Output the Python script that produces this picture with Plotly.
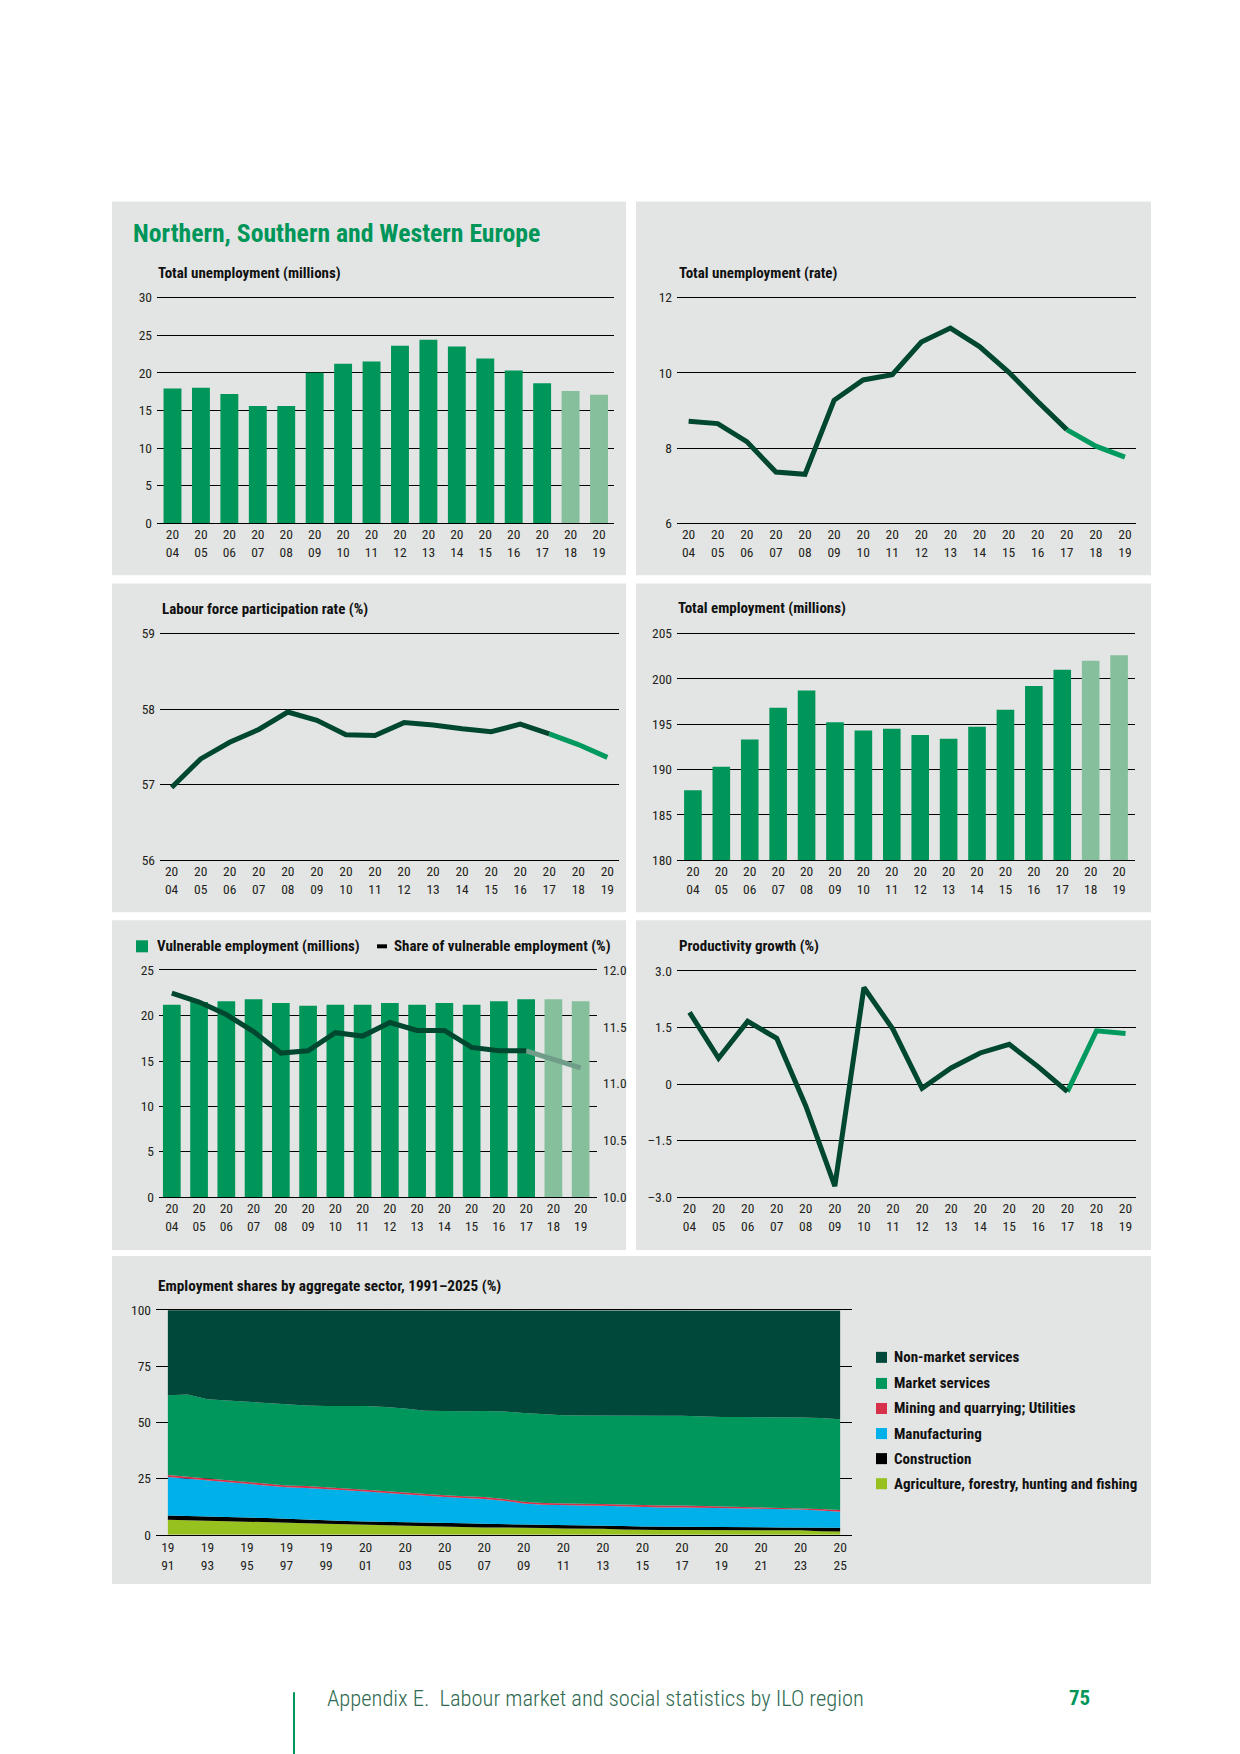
import plotly.graph_objects as go

# ---------------- data ----------------
years = [2004, 2005, 2006, 2007, 2008, 2009, 2010, 2011,
         2012, 2013, 2014, 2015, 2016, 2017, 2018, 2019]
first_projection_year = 2018

unemp_millions = [17.9, 18.0, 17.2, 15.6, 15.6, 20.0, 21.2, 21.5,
                  23.6, 24.4, 23.5, 21.9, 20.3, 18.6, 17.6, 17.1]
unemp_rate = [8.71, 8.65, 8.17, 7.36, 7.30, 9.27, 9.81, 9.95,
              10.82, 11.19, 10.70, 10.02, 9.24, 8.49, 8.05, 7.76]
lfpr = [56.96, 57.34, 57.56, 57.73, 57.96, 57.85, 57.66, 57.65,
        57.82, 57.79, 57.74, 57.70, 57.80, 57.67, 57.53, 57.36]
employment = [187.7, 190.3, 193.3, 196.8, 198.7, 195.2, 194.3, 194.5,
              193.8, 193.4, 194.7, 196.6, 199.2, 201.0, 202.0, 202.6]
vuln_millions = [21.2, 21.5, 21.6, 21.8, 21.4, 21.1, 21.2, 21.2,
                 21.4, 21.2, 21.4, 21.2, 21.6, 21.8, 21.8, 21.6]
vuln_share = [11.80, 11.72, 11.61, 11.46, 11.27, 11.29, 11.45, 11.42,
              11.54, 11.47, 11.47, 11.32, 11.29, 11.29, 11.21, 11.14]
productivity = [1.91, 0.69, 1.67, 1.22, -0.58, -2.71, 2.57, 1.46,
                -0.11, 0.43, 0.83, 1.06, 0.46, -0.20, 1.42, 1.35]

sector_years = list(range(1991, 2026))
sector_tick_years = list(range(1991, 2026, 2))
agriculture = [6.7, 6.5, 6.4, 6.3, 5.9, 5.7, 5.5, 5.2, 4.9, 4.7, 4.3, 4.3,
               4.2, 3.9, 3.7, 3.5, 3.3, 3.3, 3.3, 3.0, 2.8, 2.8, 2.7, 2.4,
               2.1, 2.1, 2.2, 2.2, 2.2, 2.1, 2.1, 2.0, 2.0, 1.6, 1.5]
construction = [1.9, 1.9, 1.8, 1.8, 1.9, 1.8, 1.6, 1.5, 1.5, 1.5, 1.6, 1.5,
                1.4, 1.5, 1.7, 1.6, 1.6, 1.5, 1.3, 1.3, 1.4, 1.4, 1.5, 1.5,
                1.6, 1.6, 1.5, 1.5, 1.5, 1.4, 1.3, 1.3, 1.3, 1.6, 1.7]
manufacturing = [17.1, 16.5, 16.0, 15.3, 14.8, 14.5, 14.1, 14.2, 14.1, 13.6,
                 13.4, 12.8, 12.6, 12.0, 11.4, 11.3, 11.1, 10.4, 9.3, 9.1,
                 8.9, 8.8, 8.7, 8.7, 8.6, 8.5, 8.5, 8.4, 8.3, 8.1, 8.1, 8.1,
                 8.0, 7.6, 7.1]
mining_utilities = [0.9, 0.9, 0.9, 0.9, 0.9, 0.9, 0.8, 0.8, 0.8, 0.8, 0.8,
                    0.8, 0.8, 0.8, 0.8, 0.8, 0.8, 0.8, 0.8, 0.8, 0.8, 0.8,
                    0.8, 0.8, 0.8, 0.8, 0.8, 0.7, 0.7, 0.7, 0.7, 0.7, 0.7,
                    0.7, 0.7]
market_services = [35.6, 36.7, 35.3, 35.5, 35.9, 35.7, 36.1, 35.9, 36.1, 36.8,
                   37.3, 37.5, 37.3, 37.0, 37.4, 37.8, 38.3, 38.9, 39.5, 39.4,
                   39.3, 39.3, 39.3, 39.6, 39.9, 40.0, 40.0, 39.8, 39.8, 40.2,
                   40.3, 40.3, 40.2, 40.5, 40.5]
non_market_services = [37.9, 37.6, 39.7, 40.2, 40.6, 41.5, 41.9, 42.4, 42.6,
                       42.6, 42.6, 43.1, 43.8, 44.7, 44.9, 44.9, 44.9, 45.0,
                       45.9, 46.4, 46.8, 46.9, 47.0, 47.0, 47.0, 47.0, 47.0,
                       47.4, 47.5, 47.5, 47.6, 47.6, 47.8, 47.9, 48.4]
sector_names = ["Agriculture, forestry, hunting and fishing", "Construction",
                "Manufacturing", "Mining and quarrying; Utilities",
                "Market services", "Non-market services"]
sector_values = [agriculture, construction, manufacturing, mining_utilities,
                 market_services, non_market_services]

# ---------------- style ----------------
W = 1240
H_FIG = 1767          # figure height
PAGE_SY = 0.9884      # observed vertical scale of the photographed page
PAGE_OY = 8.1         # observed offset above the figure
FONT = "Roboto Condensed, Liberation Sans Narrow, Roboto, sans-serif"
PANEL = "#e3e5e4"
BAR = "#00965a"
BAR_PROJ = "#86bf9b"
LINE = "#00472f"
LINE_PROJ = "#009a5e"
LINE_PROJ_GREY = "#6f9d88"
TXT = "#231f20"
GREEN_TITLE = "#00965a"
sector_colors = ["#97c11f", "#000000", "#00b0e8", "#d7304a", "#00975c", "#00483a"]

def px(x):
    return x / W

def py(y):
    # y is a position on the 1754-px page; convert to paper fraction
    return 1 - (y - PAGE_OY) / (PAGE_SY * H_FIG)

def xid(n):
    return "x" if n == 1 else "x%d" % n

def yid(n):
    return "y" if n == 1 else "y%d" % n

def lname(axid):
    return axid[0] + "axis" + axid[1:]

def year_label(y):
    s = str(y)
    return s[:2] + "<br>" + s[2:]

fig = go.Figure()

ax_font = dict(family=FONT, size=13.5, color=TXT)

def add_axes(n, x0, x1, y0, y1, xr, yr, ytickvals, yticktext=None, xtickvals=None,
             xstandoff=-1):
    xt = xtickvals if xtickvals is not None else years
    xa = dict(domain=[px(x0), px(x1)], range=xr, anchor=yid(n),
              showgrid=False, zeroline=False, showline=True, mirror=True,
              linecolor="#000000", linewidth=1, ticks="",
              tickmode="array", tickvals=xt, ticktext=[year_label(y) for y in xt],
              tickfont=ax_font, ticklabelstandoff=xstandoff, fixedrange=True)
    ya = dict(domain=[py(y1), py(y0)], range=yr, anchor=xid(n),
              showgrid=True, gridcolor="#000000", gridwidth=1,
              zeroline=False, showline=False, ticks="",
              tickmode="array", tickvals=ytickvals,
              ticktext=yticktext if yticktext is not None else [str(v) for v in ytickvals],
              tickfont=ax_font, ticklabelstandoff=4, fixedrange=True)
    fig.layout[lname(xid(n))] = xa
    fig.layout[lname(yid(n))] = ya

split_i = years.index(first_projection_year)
bar_colors = [BAR if y < first_projection_year else BAR_PROJ for y in years]

def add_bars(n, vals, width):
    fig.add_trace(go.Bar(x=years, y=vals, marker=dict(color=bar_colors, line=dict(width=0)),
                         width=width, xaxis=xid(n), yaxis=yid(n), showlegend=False))

def add_line(n, vals, proj_color, y_axis=None):
    ya_ = y_axis if y_axis else yid(n)
    fig.add_trace(go.Scatter(x=years[split_i - 1:], y=vals[split_i - 1:], mode="lines",
                             line=dict(color=proj_color, width=5),
                             xaxis=xid(n), yaxis=ya_, showlegend=False))
    fig.add_trace(go.Scatter(x=years[:split_i], y=vals[:split_i], mode="lines",
                             line=dict(color=LINE, width=5),
                             xaxis=xid(n), yaxis=ya_, showlegend=False))

# 1 Total unemployment (millions)
add_axes(1, 157, 614, 297, 522, [2003.455, 2019.527], [0, 30], [0, 5, 10, 15, 20, 25, 30])
add_bars(1, unemp_millions, 0.63)
# 2 Total unemployment rate
add_axes(2, 677, 1136, 297, 522, [2003.6, 2019.38], [6, 12], [6, 8, 10, 12])
add_line(2, unemp_rate, LINE_PROJ)
# 3 LFPR
add_axes(3, 160, 619, 632, 858, [2003.6, 2019.4], [56, 59], [56, 57, 58, 59])
add_line(3, lfpr, LINE_PROJ)
# 4 Total employment
add_axes(4, 677, 1135, 632, 858, [2003.44, 2019.56], [180, 205], [180, 185, 190, 195, 200, 205])
add_bars(4, employment, 0.62)
# 5 Vulnerable employment (bars left axis, share line right axis)
add_axes(5, 159, 597, 968, 1194, [2003.53, 2019.6], [0, 25], [0, 5, 10, 15, 20, 25])
add_bars(5, vuln_millions, 0.65)
fig.layout["yaxis8"] = dict(domain=[py(1194), py(968)], range=[10, 12], overlaying="y5",
                            anchor="x5", side="right", showgrid=False, zeroline=False,
                            showline=False, ticks="", tickmode="array",
                            tickvals=[10, 10.5, 11, 11.5, 12],
                            ticktext=["10.0", "10.5", "11.0", "11.5", "12.0"],
                            tickfont=ax_font, ticklabelstandoff=5, fixedrange=True)
add_line(5, vuln_share, LINE_PROJ_GREY, y_axis="y8")
# 6 Productivity growth
add_axes(6, 677, 1136, 969, 1194, [2003.57, 2019.36], [-3, 3], [-3, -1.5, 0, 1.5, 3],
         yticktext=["\u20133.0", "\u20131.5", "0", "1.5", "3.0"])
add_line(6, productivity, LINE_PROJ)
# 7 Employment shares
add_axes(7, 156, 852, 1307, 1531, [1990.4, 2025.6], [0, 100], [0, 25, 50, 75, 100],
         xtickvals=sector_tick_years, xstandoff=0)
for name, vals, col in zip(sector_names, sector_values, sector_colors):
    fig.add_trace(go.Scatter(x=sector_years, y=vals, name=name, stackgroup="shares",
                             mode="lines", line=dict(width=0, color=col), fillcolor=col,
                             xaxis="x7", yaxis="y7", showlegend=False))

# ---------------- panels, texts, legends ----------------
shapes = []
panels = [(112, 201, 626, 574), (636, 201, 1151, 574), (112, 582, 626, 910),
          (636, 582, 1151, 910), (112, 918, 626, 1247), (636, 918, 1151, 1247),
          (112, 1253, 1151, 1580)]
for (a, b, c, d) in panels:
    shapes.append(dict(type="rect", xref="paper", yref="paper", x0=px(a), x1=px(c),
                       y0=py(d), y1=py(b), fillcolor=PANEL, line=dict(width=0), layer="below"))

annotations = []

def text(x, y, s, size=15, color="#111111", weight="bold", xanchor="left"):
    annotations.append(dict(x=px(x), y=py(y), xref="paper", yref="paper", text=s,
                            showarrow=False, xanchor=xanchor, yanchor="middle",
                            font=dict(family=FONT, size=size, color=color, weight=weight)))

text(131, 233, "Northern, Southern and Western Europe", size=25.7, color=GREEN_TITLE)
text(156, 272, "Total unemployment (millions)")
text(677, 272, "Total unemployment (rate)")
text(160, 608, "Labour force participation rate (%)")
text(676, 607, "Total employment (millions)")
text(677, 944, "Productivity growth (%)")
text(156, 1283, "Employment shares by aggregate sector, 1991\u20132025 (%)", size=15.25)

# legend chart 5
shapes.append(dict(type="rect", xref="paper", yref="paper", x0=px(136), x1=px(148),
                   y0=py(950), y1=py(938), fillcolor=BAR, line=dict(width=0)))
text(155, 944, "Vulnerable employment (millions)")
shapes.append(dict(type="line", xref="paper", yref="paper", x0=px(377), x1=px(387),
                   y0=py(944), y1=py(944), line=dict(color="#000000", width=4)))
text(392, 944, "Share of vulnerable employment (%)")

# legend chart 7
legend_rows = [1354, 1380, 1405, 1430, 1455, 1480]
for row_y, name, col in zip(legend_rows, sector_names[::-1], sector_colors[::-1]):
    shapes.append(dict(type="rect", xref="paper", yref="paper", x0=px(876), x1=px(887),
                       y0=py(row_y + 5.5), y1=py(row_y - 5.5), fillcolor=col, line=dict(width=0)))
    text(892, row_y, name)

# footer
shapes.append(dict(type="line", xref="paper", yref="paper", x0=px(294), x1=px(294),
                   y0=0, y1=py(1688), line=dict(color=GREEN_TITLE, width=2)))
text(325, 1694, "Appendix E.\u00a0 Labour market and social statistics by ILO region",
     size=22.5, color="#2f6a50", weight=300)
text(1067, 1694, "75", size=21, color=GREEN_TITLE)

fig.update_layout(width=W, height=H_FIG, margin=dict(l=0, r=0, t=0, b=0, pad=0),
                  paper_bgcolor="#ffffff", plot_bgcolor="rgba(0,0,0,0)",
                  shapes=shapes, annotations=annotations, barmode="overlay",
                  showlegend=False, font=dict(family=FONT))

fig.write_html("out.html", config={"displayModeBar": False},
               post_script="document.body.style.margin='0';document.body.style.padding='0';")
